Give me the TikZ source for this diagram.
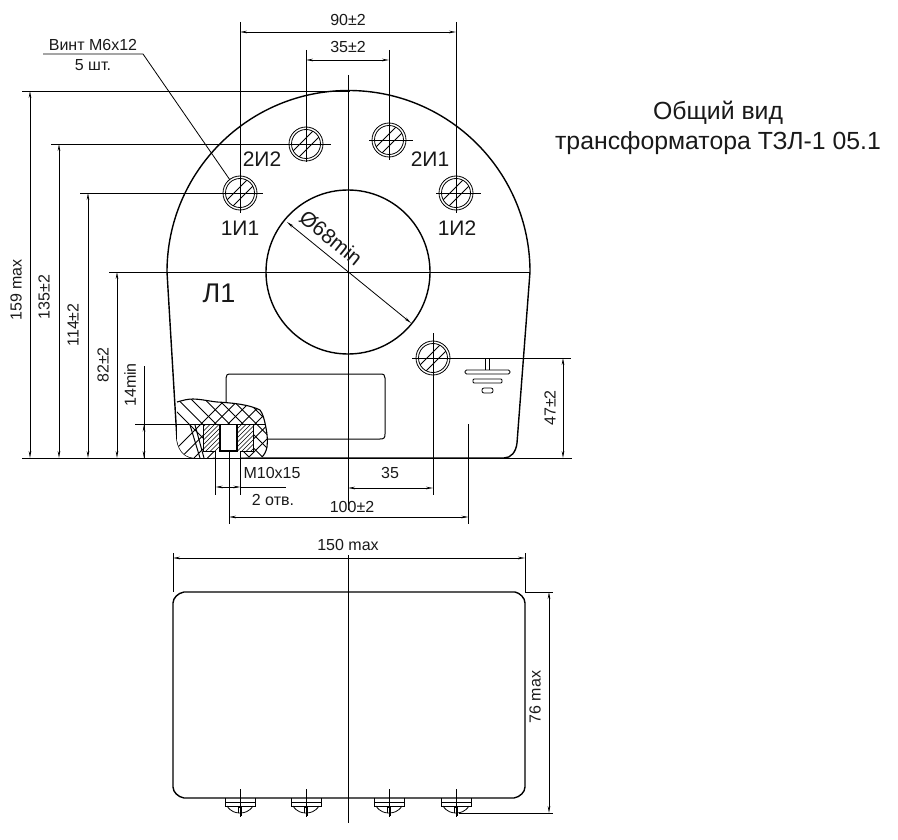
\documentclass[tikz,border=0pt]{standalone}
\usepackage{fontspec}
\setmainfont{Liberation Sans}
\usetikzlibrary{arrows.meta}
\tikzset{
  x=1pt,y=-1pt,
  body/.style={line width=1.4pt,black},
  thin line/.style={line width=0.8pt,black},
  dimline/.style={line width=0.8pt,black,{Stealth[length=7pt,width=2.6pt]}-{Stealth[length=7pt,width=2.6pt]}},
  lbl/.style={inner sep=0pt,font=\fontsize{16}{18}\selectfont,text=black!90},
  mark lbl/.style={inner sep=0pt,font=\fontsize{21}{23}\selectfont,text=black!90},
  screw/.style={line width=0.8pt,black},
}
\newcommand{\screwhead}[2]{%
  \begin{scope}[shift={(#1,#2)}]
    \draw[screw] (0,0) circle (17);
    \draw[screw] (0,0) circle (14.5);
    \begin{scope}
      \clip (0,0) circle (14.5);
      \draw[screw] (-15,9) -- (9,-15) (-9,15) -- (15,-9);
    \end{scope}
  \end{scope}}
\newcommand{\sidescrew}[1]{%
  \begin{scope}[shift={(#1,0)}]
    \draw[thin line] (-15,798) -- (-15,806) -- (15,806) -- (15,798) (-15,802) -- (15,802);
    \draw[thin line] (-13,806) .. controls (-9,812) and (-4,813) .. (0,813) .. controls (4,813) and (9,812) .. (13,806);
    \draw[thin line] (-2,813) -- (-2,807) -- (1,807) -- (1,816);
    \draw[thin line] (0,789) -- (0,817);
  \end{scope}}
\def\cutpath{(177,402) .. controls (184,400) and (188,399) .. (193,399) .. controls (200,399) and (208,401) .. (217,402) .. controls (235,403) and (250,405) .. (260,410) .. controls (263,414) and (264,419) .. (265,423) .. controls (267,432) and (268,440) .. (267,447) .. controls (266,452) and (264,455) .. (262,457) -- (196,458) .. controls (186,458) and (179,452) .. (177,440) -- cycle}
\begin{document}
\begin{tikzpicture}
\useasboundingbox (0,0) rectangle (898,840);
% body outline
\draw[body] (177,440) -- (167,272) arc[start angle=180,end angle=360,radius=181.5] -- (517,443) .. controls (516,452) and (511,458) .. (504,458) -- (196,458) .. controls (186,458) and (179,452) .. (177,440);
\draw[body] (348,272) circle (82);
\draw[thin line,line width=1pt] (267,439) -- (380,439) .. controls (384,439) and (385,438) .. (385,434) -- (385,378) .. controls (385,375) and (384,374) .. (380,374) -- (231,374) .. controls (227,374) and (226,375) .. (226,378) -- (226,402);
% cut-away with cross hatching
\path[fill=white] \cutpath;
\begin{scope}
  \clip \cutpath;
  \foreach \k in {0,...,12}{
    \draw[line width=1pt,black] ({155+13.5*\k},390) -- ++(80,80);
    \draw[line width=1pt,black] ({155+13.5*\k},470) -- ++(80,-80);
  }
\end{scope}
\draw[line width=1.1pt,black] (177,402) .. controls (184,400) and (188,399) .. (193,399) .. controls (200,399) and (208,401) .. (217,402) .. controls (235,403) and (250,405) .. (260,410) .. controls (263,414) and (264,419) .. (265,423) .. controls (267,432) and (268,440) .. (267,447) .. controls (266,452) and (264,455) .. (262,457);
\draw[line width=1pt,black] (190,425) -- (200,458) (195,425) -- (204,458);
% threaded bore
\fill[white] (203,425) rectangle (253,451);
\fill[white] (215.5,451) rectangle (240.5,458);
\begin{scope}
  \clip (203,425) rectangle (219,451) (238,425) rectangle (253,451);
  \foreach \k in {0,...,18}{
    \draw[line width=0.6pt,black] ({175+4.5*\k},455) -- ++(35,-35);
  }
\end{scope}
\draw[thin line] (203,425) -- (203,451) -- (215.5,451) -- (215.5,458);
\draw[thin line] (253,425) -- (253,451) -- (240.5,451) -- (240.5,458);
\draw[line width=1.4pt,black] (220,425) -- (220,451) -- (237,451) -- (237,425);
\draw[line width=1pt,black] (176,424.5) -- (266,424.5);
% screws
\screwhead{240}{193}
\screwhead{306}{144}
\screwhead{389}{140}
\screwhead{456}{193}
\screwhead{433}{358}
% centre lines and extension lines, top view
\draw[thin line] (348,75) -- (348,510);
\draw[thin line] (240,22) -- (240,213);
\draw[thin line] (456,22) -- (456,213);
\draw[thin line] (306,50) -- (306,162);
\draw[thin line] (389,50) -- (389,160);
\draw[thin line] (369,140) -- (413,140);
\draw[thin line] (436,193) -- (481,193);
\draw[thin line] (22,91) -- (350,91);
\draw[thin line] (51,144) -- (331,144);
\draw[thin line] (80,193) -- (263,193);
\draw[thin line] (109,272) -- (530,272);
\draw[thin line] (135,424.5) -- (176,424.5);
\draw[thin line] (22,458) -- (572,458);
\draw[thin line] (412,358) -- (571,358);
\draw[thin line] (433,333) -- (433,495);
\draw[thin line] (468.5,424) -- (468.5,524);
\draw[thin line] (229,451) -- (229,524);
\draw[thin line] (215.5,458) -- (215.5,495);
\draw[thin line] (240.5,458) -- (240.5,495);
% dimension lines, top view
\draw[dimline] (240,32) -- (456,32);
\draw[dimline] (306,60) -- (389,60);
\draw[dimline] (30,91) -- (30,458);
\draw[dimline] (59,144) -- (59,458);
\draw[dimline] (88,193) -- (88,458);
\draw[dimline] (117,272) -- (117,458);
\draw[thin line] (144,366) -- (144,458);
\draw[dimline] (144,424.5) -- (144,458);
\draw[dimline] (563,358) -- (563,458);
\draw[dimline] (348,488) -- (433,488);
\draw[dimline] (229,517) -- (468.5,517);
\draw[thin line] (240.5,487) -- (286,487);
\draw[thin line,{Stealth[length=7pt,width=2.6pt]}-{Stealth[length=7pt,width=2.6pt]}] (215.5,487) -- (240.5,487);
\draw[thin line,{Stealth[length=7pt,width=2.6pt]}-{Stealth[length=7pt,width=2.6pt]}] (287,222) -- (411,323);
% leader
\draw[thin line] (43,54) -- (143,54) -- (230,180);
% ground symbol
\draw[thin line] (485,358) -- (485,370) (489,358) -- (489,370);
\draw[thin line,fill=white,rounded corners=1.5pt] (465,370) rectangle (510,374);
\draw[thin line,fill=white,rounded corners=1pt] (473,379) rectangle (502,383);
\draw[thin line,fill=white,rounded corners=2pt] (482,388) rectangle (493,393);
% lower view
\draw[body] (184,592) -- (515,592) .. controls (520,593) and (525,598) .. (525,603) -- (525,787) .. controls (525,792) and (520,797) .. (514,798) -- (184,798) .. controls (178,797) and (173,792) .. (173,787) -- (173,603) .. controls (173,598) and (178,593) .. (184,592) -- cycle;
\draw[thin line] (348,555) -- (348,823);
\sidescrew{240}
\sidescrew{306}
\sidescrew{389}
\sidescrew{456}
\draw[thin line] (173,553) -- (173,592);
\draw[thin line] (525,553) -- (525,592);
\draw[thin line] (525,592) -- (553,592);
\draw[thin line] (459,813) -- (553,813);
\draw[dimline] (173,558) -- (525,558);
\draw[dimline] (549,592) -- (549,813);
% texts
\node[inner sep=0pt,align=center,font=\fontsize{24.8}{30}\selectfont,text=black!90] (title) at (718,128) {Общий вид\\трансформатора ТЗЛ-1 05.1};
\node[lbl] (d90) at (348,20) {90±2};
\node[lbl] (d35a) at (348,47) {35±2};
\node[lbl] (screwa) at (93,45) {Винт М6х12};
\node[lbl] (screwb) at (93,65) {5 шт.};
\node[lbl,rotate=90] (d159) at (16,290) {159 max};
\node[lbl,rotate=90] (d135) at (44,297) {135±2};
\node[lbl,rotate=90] (d114) at (73,325) {114±2};
\node[lbl,rotate=90] (d82) at (103,365) {82±2};
\node[lbl,rotate=90] (d14) at (130,385) {14min};
\node[lbl,rotate=90] (d47) at (550,408) {47±2};
\node[lbl] (m10) at (272,473) {М10х15};
\node[lbl] (holes) at (273,500) {2 отв.};
\node[lbl] (d35b) at (390,473) {35};
\node[lbl] (d100) at (352,507) {100±2};
\node[lbl] (d150) at (348,545) {150 max};
\node[lbl,rotate=90] (d76) at (535,697) {76 max};
\node[mark lbl] (t2i2) at (262,159) {2И2};
\node[mark lbl] (t2i1) at (430,159) {2И1};
\node[mark lbl] (t1i1) at (240,228) {1И1};
\node[mark lbl] (t1i2) at (457,228) {1И2};
\node[inner sep=0pt,font=\fontsize{27}{29}\selectfont,text=black!90] (l1) at (219,293) {Л1};
\node[inner sep=0pt,font=\fontsize{21}{23}\selectfont,text=black!90,rotate=-39] (d68) at (331,238) {Ø68min};
\end{tikzpicture}
\end{document}
